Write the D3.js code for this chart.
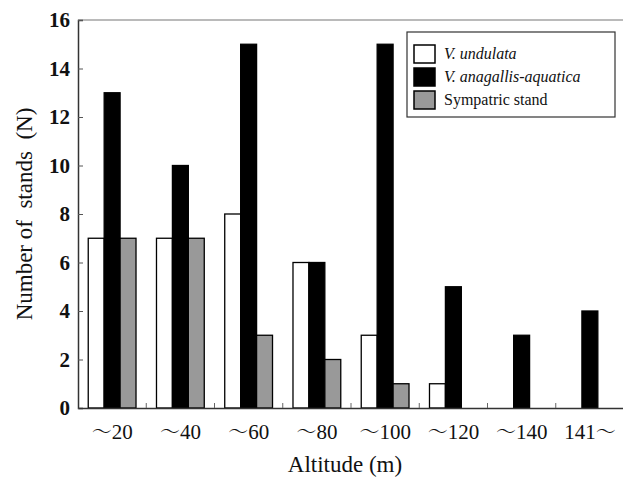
<!DOCTYPE html>
<html><head><meta charset="utf-8">
<script src="https://cdn.jsdelivr.net/npm/d3@7"></script>
<style>
body{margin:0;background:#fff}svg{display:block}
</style>
</head><body>
<script>
const T = "\uFF5E";
const categories = [T+"20",T+"40",T+"60",T+"80",T+"100",T+"120",T+"140","141"+T];
const undulata = [7,7,8,6,3,1,0,0];
const anagallis = [13,10,15,6,15,5,3,4];
const sympatric = [7,7,3,2,1,0,0,0];
const yTicks = [0,2,4,6,8,10,12,14,16];
const seriesNames = ["V. undulata","V. anagallis-aquatica","Sympatric stand"];
const seriesData = [undulata, anagallis, sympatric];
const colors = ["#ffffff","#000000","#999999"];

const SERIF='"Liberation Serif"';
const CJK='"Noto Serif CJK JP"';
const W=623,H=481;
const svg=d3.select("body").append("svg").attr("width",W).attr("height",H);
function serif(sel,size){return sel.style("font-family",SERIF).style("font-size",size+"px");}

const x=d3.scaleBand().domain(categories).range([78,624]).paddingInner(0.3).paddingOuter(0.15);
const y=d3.scaleLinear().domain([0,16]).range([408,20]);
const xs=d3.scaleBand().domain([0,1,2]).range([0,x.bandwidth()]);

svg.append("line").attr("x1",78).attr("x2",623).attr("y1",y(16)).attr("y2",y(16))
  .attr("stroke","#777").attr("stroke-width",1.2);

seriesData.forEach((arr,si)=>{
  svg.append("g").selectAll("rect").data(arr.map((v,i)=>({v,c:categories[i]})).filter(d=>d.v>0))
    .join("rect")
    .attr("x",d=>x(d.c)+xs(si))
    .attr("width",xs.bandwidth())
    .attr("y",d=>y(d.v))
    .attr("height",d=>y(0)-y(d.v))
    .attr("fill",colors[si]).attr("stroke","#000").attr("stroke-width",1.3);
});

const ya=svg.append("g").attr("transform","translate(78,0)")
  .call(d3.axisRight(y).tickValues(yTicks).tickSize(5).tickFormat(d3.format("d")));
ya.attr("font-family",null).attr("font-size",null);
ya.select(".domain").attr("stroke","#333").attr("stroke-width",1.5);
ya.selectAll(".tick line").attr("stroke","#555");
serif(ya.selectAll(".tick text").attr("x",-8).attr("text-anchor","end"),21)
  .style("font-weight","bold").attr("fill","#111");

const xa=svg.append("g").attr("transform","translate(0,408)")
  .call(d3.axisBottom(x).tickSize(0).tickSizeOuter(0).tickFormat(""));
xa.attr("font-family",null).attr("font-size",null);
xa.select(".domain").attr("stroke","#333").attr("stroke-width",1.5);
xa.selectAll(".tick").each(function(d){
  const t=serif(d3.select(this).append("text").attr("y",31).attr("dy",0).attr("text-anchor","middle")
    .attr("fill","#111"),21);
  const parts=d.split(T);
  parts.forEach((p,i)=>{
    if(i>0) t.append("tspan").style("font-family",CJK).style("font-size","20px").text(T);
    if(p) serif(t.append("tspan"),21).text(p);
  });
});
const bounds=categories.slice(1).map(c=>x(c)-x.step()*x.paddingInner()/2);
svg.append("g").selectAll("line").data(bounds).join("line")
  .attr("x1",d=>d).attr("x2",d=>d).attr("y1",408).attr("y2",403)
  .attr("stroke","#666").attr("stroke-width",1);

serif(svg.append("text").attr("x",345).attr("y",472).attr("text-anchor","middle"),23)
  .attr("fill","#111").text("Altitude (m)");
serif(svg.append("text").attr("transform","translate(32,214) rotate(-90)").attr("text-anchor","middle"),23)
  .attr("fill","#111").style("white-space","pre")
  .text("Number of  stands  (N)");

const lg=svg.append("g");
lg.append("rect").attr("x",407).attr("y",32).attr("width",208).attr("height",85)
  .attr("fill","#fff").attr("stroke","#333").attr("stroke-width",1.2);
seriesNames.forEach((n,i)=>{
  const cy=54+i*23;
  lg.append("rect").attr("x",414).attr("y",cy-9).attr("width",21).attr("height",18)
    .attr("fill",colors[i]).attr("stroke","#000").attr("stroke-width",1.5);
  serif(lg.append("text").attr("x",444).attr("y",cy+5),16).attr("fill","#111")
    .style("font-style",i<2?"italic":"normal").text(n);
});
</script>
</body></html>
